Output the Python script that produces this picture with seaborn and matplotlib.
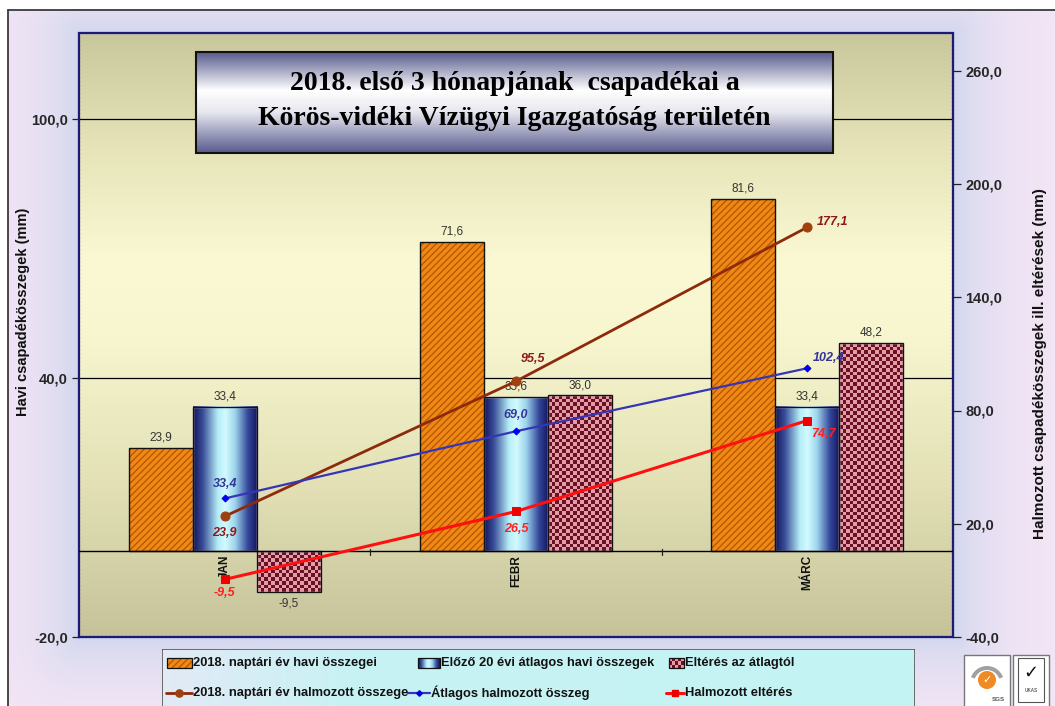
import numpy as np
import pandas as pd
import matplotlib
matplotlib.use('Agg')
import matplotlib.pyplot as plt
import seaborn as sns
from matplotlib.patches import Rectangle, Wedge, Circle
from matplotlib.lines import Line2D
from matplotlib.colors import LinearSegmentedColormap, to_rgb
from matplotlib import font_manager as fm

# ---------------- data ----------------
months = ['JAN', 'FEBR', 'MÁRC']
monthly_2018 = [23.9, 71.6, 81.6]
monthly_avg20 = [33.4, 35.6, 33.4]
monthly_diff = [-9.5, 36.0, 48.2]
cum_2018 = [23.9, 95.5, 177.1]
cum_avg = [33.4, 69.0, 102.4]
cum_diff = [-9.5, 26.5, 74.7]
bar_series = ['2018. naptári év havi összegei',
              'Előző 20 évi átlagos havi összegek',
              'Eltérés az átlagtól']
line_series = ['2018. naptári év halmozott összege',
               'Átlagos halmozott összeg',
               'Halmozott eltérés']
left_ticks = [-20, 40, 100]
right_ticks = [-40, 20, 80, 140, 200, 260]
title_lines = ['2018. első 3 hónapjának  csapadékai a',
               'Körös-vidéki Vízügyi Igazgatóság területén']
left_label = 'Havi csapadékösszegek (mm)'
right_label = 'Halmozott csapadékösszegek ill. eltérések (mm)'

# ---------------- style ----------------
sns.set_style('white')
plt.rcParams['font.family'] = ['Liberation Sans', 'DejaVu Sans']
plt.rcParams['hatch.linewidth'] = 0.9
names = {f.name for f in fm.fontManager.ttflist}
NARROW = 'Liberation Sans Narrow' if 'Liberation Sans Narrow' in names else 'Liberation Sans'

def fmt(v):
    return f'{v:.1f}'.replace('.', ',')

W, H = 1055, 706
fig = plt.figure(figsize=(W / 100, H / 100), dpi=100)
def fx(p): return p / W
def fy(p): return 1 - p / H

L, T, R, B = 79, 33, 953, 637
pos = [fx(L), fy(B), fx(R) - fx(L), fy(T) - fy(B)]

# ---------------- figure background ----------------
bg = fig.add_axes([0, 0, 1, 1], zorder=0)
bg.set_axis_off()
yy, xx = np.mgrid[0:H, 0:W]
dx = np.maximum(np.maximum(L - xx, xx - R), 0)
dy = np.maximum(np.maximum(T - yy, yy - B), 0)
t = np.exp(-np.hypot(dx, dy) / 45.0)
pink = np.array(to_rgb('#F6E7F6')); lav = np.array(to_rgb('#D2D7EE'))
img = pink * (1 - t[..., None]) + lav * t[..., None]
img[:10, :, :] = 1.0
img[:, :8, :] = 1.0
bg.imshow(img, extent=[0, 1, 0, 1], aspect='auto', interpolation='bilinear')
bg.plot([fx(8), fx(8)], [0, fy(10)], color='#3a3a3a', lw=1.3)
bg.plot([fx(8), 1], [fy(10), fy(10)], color='#3a3a3a', lw=1.3)
bg.set_xlim(0, 1); bg.set_ylim(0, 1)

# ---------------- plot-area background ----------------
pbg = fig.add_axes(pos, zorder=1)
pbg.set_axis_off()
cm_plot = LinearSegmentedColormap.from_list(
    'p', [(0, '#C6C39B'), (0.25, '#E2E0B4'), (0.5, '#F8F6CF'), (0.62, '#FBF9D4'),
          (0.8, '#E7E5B9'), (1.0, '#C9C79D')])
pbg.imshow(np.linspace(1, 0, 256)[:, None], cmap=cm_plot, vmin=0, vmax=1,
           aspect='auto', extent=[0, 1, 0, 1])
pbg.set_xlim(0, 1); pbg.set_ylim(0, 1)

# ---------------- bars (seaborn) ----------------
ax = fig.add_axes(pos, zorder=2)
ax.patch.set_visible(False)
df_bars = pd.DataFrame({
    'Hónap': months * 3,
    'Érték': monthly_2018 + monthly_avg20 + monthly_diff,
    'Sorozat': [s for s in bar_series for _ in months],
})
sns.barplot(data=df_bars, x='Hónap', y='Érték', hue='Sorozat', order=months,
            hue_order=bar_series, palette=['#EE8612', '#A8E8F8', '#D88A98'],
            width=0.66, saturation=1, errorbar=None, legend=False, ax=ax, zorder=3)

cm_blue = LinearSegmentedColormap.from_list(
    'b', [(0, '#14145E'), (0.15, '#3A4E98'), (0.38, '#B4ECF6'), (0.5, '#D2FAFF'),
          (0.65, '#9ED4EC'), (0.85, '#34479A'), (1, '#14145E')])
checker_cols = LinearSegmentedColormap.from_list('c', ['#E49CA8', '#6A1224'])

ppu = (B - T) / 140.0  # pixels per left-axis unit
orange_c, blue_c, check_c = ax.containers[0], ax.containers[1], ax.containers[2]
for rect in orange_c:
    rect.set_facecolor('#EF8814')
    rect.set_edgecolor('#B45500')
    rect.set_hatch('/////')
    rect.set_linewidth(0)
for rect in blue_c:
    x0, y0, w, h = rect.get_x(), rect.get_y(), rect.get_width(), rect.get_height()
    rect.set_facecolor('none')
    ax.imshow(np.linspace(0, 1, 200)[None, :], cmap=cm_blue, aspect='auto',
              extent=[x0, x0 + w, y0, y0 + h], zorder=2.9, interpolation='bilinear')
for rect in check_c:
    x0, y0, w, h = rect.get_x(), rect.get_y(), rect.get_width(), rect.get_height()
    rect.set_facecolor('none')
    nx = 18
    ny = max(2, int(round(abs(h) * ppu / 3.6)))
    chk = (np.add.outer(np.arange(ny), np.arange(nx)) % 2).astype(float)
    ax.imshow(chk, cmap=checker_cols, aspect='auto', interpolation='nearest',
              extent=[x0, x0 + w, min(y0, y0 + h), max(y0, y0 + h)], zorder=2.9)
for cont in (orange_c, blue_c, check_c):
    for rect, v in zip(cont, cont.datavalues):
        x0, y0, w, h = rect.get_x(), rect.get_y(), rect.get_width(), rect.get_height()
        ax.add_patch(Rectangle((x0, y0), w, h, fill=False, edgecolor='#111111',
                               lw=1.0, zorder=3.5))
        if v >= 0:
            ax.annotate(fmt(v), (x0 + w / 2, v), xytext=(0, 3), textcoords='offset points',
                        ha='center', va='bottom', fontsize=8.5, color='#333333', zorder=6)
        else:
            ax.annotate(fmt(v), (x0 + w / 2, v), xytext=(0, -4), textcoords='offset points',
                        ha='center', va='top', fontsize=8.5, color='#333333', zorder=6)

ax.set_xlim(-0.5, 2.5)
ax.set_ylim(-20, 120)
ax.axhline(40, color='black', lw=0.9, zorder=1)
ax.axhline(100, color='black', lw=0.9, zorder=1)
ax.axhline(0, color='black', lw=1.0, zorder=4)
for xb in (0.5, 1.5):
    ax.plot([xb, xb], [-1.1, 0.4], color='#222222', lw=0.9, zorder=4)
ax.set_xticks([])
ax.set_xlabel('')
ax.set_ylabel('')
ax.set_yticks(left_ticks)
ax.set_yticklabels([fmt(v) for v in left_ticks], fontsize=10.5, fontweight='bold')
ax.tick_params(axis='y', direction='out', length=5, width=0.9, color='#222222', pad=3)
for i, m in enumerate(months):
    ax.text(i, -1.0, m, rotation=90, ha='center', va='top', fontsize=8.5,
            fontweight='bold', color='#111111', zorder=6)
for sp in ax.spines.values():
    sp.set_color('#1C1C78')
    sp.set_linewidth(1.6)
    sp.set_linestyle((0, (1.2, 0.6)))

# ---------------- cumulative lines (seaborn, right axis) ----------------
ax2 = ax.twinx()
ax2.set_zorder(3)
ax2.patch.set_visible(False)
xs = list(range(len(months)))
line_specs = [
    (cum_2018, '#8E2A0C', 'o', 6.5, 2.0, '#A0400F'),
    (cum_avg, '#3535B8', 'D', 3.5, 1.6, '#0000EE'),
    (cum_diff, '#FF1010', 's', 5.5, 2.2, '#EE0000'),
]
for vals, col, mk, ms, lw, mcol in line_specs:
    sns.lineplot(x=xs, y=vals, ax=ax2, color=col, marker=mk, markersize=ms,
                 linewidth=lw, markeredgecolor=mcol, markerfacecolor=mcol,
                 legend=False, zorder=5)
ax2.set_ylim(-40, 280)
ax2.set_xlim(-0.5, 2.5)
ax2.set_yticks(right_ticks)
ax2.set_yticklabels([fmt(v) for v in right_ticks], fontsize=10.5, fontweight='bold')
ax2.tick_params(axis='y', direction='out', length=6, width=0.9, color='#222222', pad=3)
ax2.set_ylabel('')
ax2.set_xlabel('')
for sp in ax2.spines.values():
    sp.set_visible(False)

# value labels for lines: (series values, color, offsets per point in px, ha)
px = 0.72
lab_specs = [
    (cum_2018, '#8B1A1A', [(0, -17, 'center'), (17, 22, 'center'), (9, 5, 'left')]),
    (cum_avg, '#333399', [(0, 14, 'center'), (0, 16, 'center'), (5, 10, 'left')]),
    (cum_diff, '#FF2020', [(0, -14, 'center'), (0, -18, 'center'), (4, -13, 'left')]),
]
for vals, col, offs in lab_specs:
    for i, (v, (ox, oy, ha)) in enumerate(zip(vals, offs)):
        ax2.annotate(fmt(v), (i, v), xytext=(ox * px, oy * px), textcoords='offset points',
                     ha=ha, va='center', fontsize=9, fontweight='bold', fontstyle='italic',
                     color=col, zorder=7)

# ---------------- axis titles ----------------
fig.text(fx(23), fy(312), left_label, rotation=90, ha='center', va='center',
         fontsize=10.5, fontweight='bold', color='#111111')
fig.text(fx(1040), fy(364), right_label, rotation=90, ha='center', va='center',
         fontsize=11, fontweight='bold', color='#111111')

# ---------------- title box ----------------
tb = fig.add_axes([fx(196), fy(153), fx(833) - fx(196), fy(52) - fy(153)], zorder=6)
tb.set_axis_off()
cm_title = LinearSegmentedColormap.from_list(
    't', [(0, '#585B8D'), (0.38, '#FFFFFF'), (0.6, '#E6E6EF'), (1, '#585B8D')])
tb.imshow(np.linspace(0, 1, 256)[:, None], cmap=cm_title, aspect='auto',
          extent=[0, 1, 0, 1], interpolation='bilinear')
tb.add_patch(Rectangle((0, 0), 1, 1, fill=False, edgecolor='#111111', lw=1.5,
                       transform=tb.transAxes, clip_on=False))
tb.set_xlim(0, 1); tb.set_ylim(0, 1)
serif = ['Liberation Serif', 'DejaVu Serif']
t1 = tb.text(0.5, 0.69, title_lines[0], ha='center', va='center', fontsize=17.5,
             fontweight='bold', family=serif, color='#000000')
t2 = tb.text(0.5, 0.34, title_lines[1], ha='center', va='center', fontsize=17.5,
             fontweight='bold', family=serif, color='#000000')

# ---------------- legend box (pixel coordinates) ----------------
lg = fig.add_axes([fx(162), 0, fx(915) - fx(162), fy(649)], zorder=6)
lg.set_axis_off()
lg.set_xlim(162, 915); lg.set_ylim(H, 649)
cm_leg = LinearSegmentedColormap.from_list('l', [(0, '#E2EAF6'), (0.25, '#C8F2F4'), (1, '#C4F4F4')])
lg.imshow(np.linspace(0, 1, 256)[None, :], cmap=cm_leg, aspect='auto',
          extent=[162, 915, H, 649], interpolation='bilinear')
lg.plot([162, 162, 915, 915], [H, 649, 649, H], color='#555555', lw=1.2)
lg.set_xlim(162, 915); lg.set_ylim(H, 649)
r1, r2 = 663, 693
# bar handles
lg.add_patch(Rectangle((167, r1 - 5), 25, 10, facecolor='#EF8814', edgecolor='#B45500',
                       hatch='/////', lw=0))
lg.add_patch(Rectangle((167, r1 - 5), 25, 10, fill=False, edgecolor='#111111', lw=0.9))
lg.imshow(np.linspace(0, 1, 100)[None, :], cmap=cm_blue, aspect='auto',
          extent=[418, 440, r1 + 5, r1 - 5], interpolation='bilinear')
lg.add_patch(Rectangle((418, r1 - 5), 22, 10, fill=False, edgecolor='#111111', lw=0.9))
chk = (np.add.outer(np.arange(3), np.arange(5)) % 2).astype(float)
lg.imshow(chk, cmap=checker_cols, aspect='auto', interpolation='nearest',
          extent=[669, 684, r1 + 5, r1 - 5])
lg.add_patch(Rectangle((669, r1 - 5), 15, 10, fill=False, edgecolor='#111111', lw=0.9))
# line handles
for (x0, x1), (vals, col, mk, ms, lw, mcol) in zip([(166, 192), (408, 430), (666, 684)], line_specs):
    lg.add_line(Line2D([x0, x1], [r2, r2], color=col, lw=lw))
    lg.add_line(Line2D([(x0 + x1) / 2], [r2], marker=mk, markersize=ms * 0.8, color=mcol))
lg.set_xlim(162, 915); lg.set_ylim(H, 649)
leg_texts = [(193, r1, bar_series[0]), (441, r1, bar_series[1]), (685, r1, bar_series[2]),
             (193, r2, line_series[0]), (431, r2, line_series[1]), (685, r2, line_series[2])]
tobjs = []
for x, y, s in leg_texts:
    tobjs.append(lg.text(x, y, s, ha='left', va='center', fontsize=9.5, fontweight='bold',
                         family=[NARROW, 'DejaVu Sans'], color='#111111'))

# fit font sizes to measured widths
fig.canvas.draw()
rend = fig.canvas.get_renderer()
w0 = tobjs[0].get_window_extent(rend).width
scale = 185.0 / w0
for tt in tobjs:
    tt.set_fontsize(9.5 * scale)
w2 = t2.get_window_extent(rend).width
for tt in (t1, t2):
    tt.set_fontsize(17.5 * 510.0 / w2)

# ---------------- logos ----------------
lo = fig.add_axes([fx(958), 0, fx(1055) - fx(958), fy(650)], zorder=6)
lo.set_axis_off()
lo.set_xlim(958, 1055); lo.set_ylim(H, 650)
lo.add_patch(Rectangle((964, 655), 46, 52, facecolor='white', edgecolor='#777777', lw=1))
lo.add_patch(Rectangle((1013, 655), 36, 52, facecolor='white', edgecolor='#777777', lw=1))
lo.add_patch(Rectangle((1018, 658), 26, 44, facecolor='white', edgecolor='#555555', lw=0.8))
lo.add_patch(Wedge((987, 683), 17, 200, 340, width=4, facecolor='#A0A0A0', edgecolor='none'))
lo.add_patch(Circle((987, 680), 9, facecolor='#F08A24', edgecolor='none'))
lo.text(987, 680, '✓', ha='center', va='center', fontsize=8, color='white',
        fontweight='bold', family=['DejaVu Sans'])
lo.text(998, 699, 'SGS', ha='center', va='center', fontsize=4.5, color='#555555',
        fontweight='bold')
lo.text(1031, 673, '✓', ha='center', va='center', fontsize=13, color='#111111',
        fontweight='bold', family=['DejaVu Sans'])
lo.text(1031, 690, 'UKAS', ha='center', va='center', fontsize=3.5, color='#222222')
lo.set_xlim(958, 1055); lo.set_ylim(H, 650)

fig.savefig('out.png', dpi=100)
